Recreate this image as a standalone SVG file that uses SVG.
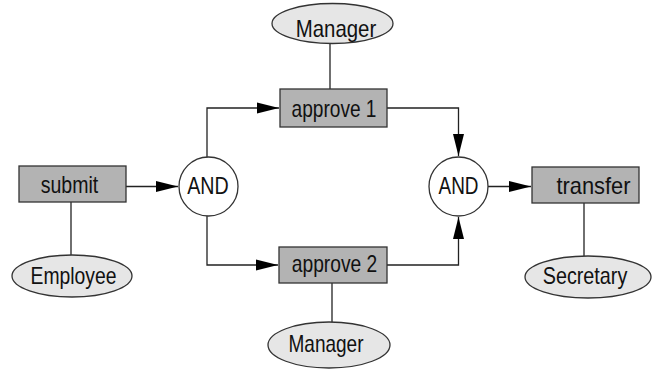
<svg xmlns="http://www.w3.org/2000/svg" width="652" height="370" viewBox="0 0 652 370">
<style>
  .task { fill: #b3b3b3; stroke: #333; stroke-width: 1.3; }
  .role { fill: #e6e6e6; stroke: #333; stroke-width: 1.3; }
  .gate { fill: #ffffff; stroke: #333; stroke-width: 1.3; }
  .edge { fill: none; stroke: #222; stroke-width: 1.3; }
  text { font-family: "Liberation Sans", Arial, sans-serif; font-size: 24px; fill: #111; text-anchor: middle; }
</style>
<defs>
  <marker id="arrow" markerUnits="userSpaceOnUse" markerWidth="23" markerHeight="12" refX="22" refY="6" orient="auto">
    <path d="M0,0.5 L22,6 L0,11.5 Z" fill="#000"/>
  </marker>
</defs>
<g id="connectors">
  <path class="edge" d="M126,186.5 L178,186.5" marker-end="url(#arrow)"/>
  <path class="edge" d="M207,157 L207,108 L279,108" marker-end="url(#arrow)"/>
  <path class="edge" d="M207,216 L207,265 L278,265" marker-end="url(#arrow)"/>
  <path class="edge" d="M387,108 L458.5,108 L458.5,156" marker-end="url(#arrow)"/>
  <path class="edge" d="M387,265 L458.5,265 L458.5,217" marker-end="url(#arrow)"/>
  <path class="edge" d="M488,186.5 L531,186.5" marker-end="url(#arrow)"/>
  <path class="edge" d="M71,202 L71,255"/>
  <path class="edge" d="M330,43 L330,89"/>
  <path class="edge" d="M332,283 L332,322"/>
  <path class="edge" d="M584,203 L584,256"/>
</g>
<g id="submit">
  <rect class="task" x="19" y="166" width="107" height="36"/>
  <text x="69.5" y="192.5" textLength="57.5" lengthAdjust="spacingAndGlyphs">submit</text>
</g>
<g id="employee">
  <ellipse class="role" cx="72" cy="276" rx="60" ry="21"/>
  <text x="73.5" y="283.5" textLength="86" lengthAdjust="spacingAndGlyphs">Employee</text>
</g>
<g id="and1">
  <circle class="gate" cx="208.5" cy="186.5" r="29.5"/>
  <text x="208" y="193.5" textLength="41.5" lengthAdjust="spacingAndGlyphs">AND</text>
</g>
<g id="approve1">
  <rect class="task" x="280" y="89" width="107" height="38"/>
  <text x="334" y="116.5" textLength="85" lengthAdjust="spacingAndGlyphs">approve 1</text>
</g>
<g id="manager1">
  <ellipse class="role" cx="332.5" cy="23.5" rx="60.5" ry="20"/>
  <text x="336" y="36.5" textLength="80.5" lengthAdjust="spacingAndGlyphs">Manager</text>
</g>
<g id="approve2">
  <rect class="task" x="279" y="247" width="108" height="36"/>
  <text x="334.5" y="271.5" textLength="85.5" lengthAdjust="spacingAndGlyphs">approve 2</text>
</g>
<g id="manager2">
  <ellipse class="role" cx="329" cy="345" rx="61" ry="23"/>
  <text x="326" y="352" textLength="75" lengthAdjust="spacingAndGlyphs">Manager</text>
</g>
<g id="and2">
  <circle class="gate" cx="458.5" cy="186.5" r="29.5"/>
  <text x="458.5" y="193.5" textLength="40" lengthAdjust="spacingAndGlyphs">AND</text>
</g>
<g id="transfer">
  <rect class="task" x="532" y="167" width="107" height="36"/>
  <text x="593.5" y="193.5" textLength="74" lengthAdjust="spacingAndGlyphs">transfer</text>
</g>
<g id="secretary">
  <ellipse class="role" cx="588" cy="277" rx="63" ry="21"/>
  <text x="585" y="284" textLength="84.5" lengthAdjust="spacingAndGlyphs">Secretary</text>
</g>
</svg>
